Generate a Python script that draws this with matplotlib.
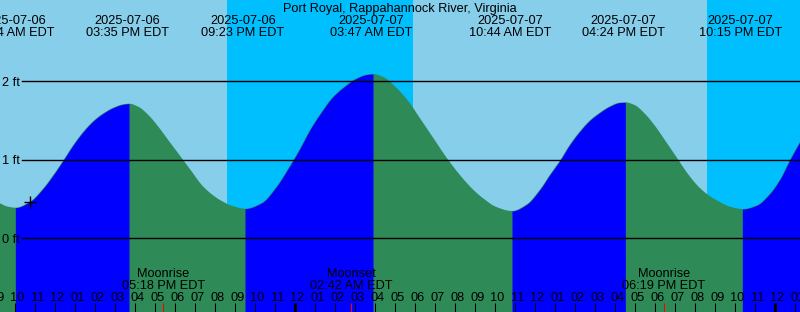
import matplotlib
matplotlib.use("Agg")
import matplotlib.pyplot as plt
import matplotlib.transforms as mtransforms
import numpy as np

# times are hours since 2025-07-06 00:00 EDT, heights in ft
tide_t = [9.10, 9.50, 9.90, 10.63, 11.30, 11.80, 12.30, 12.80, 13.30, 13.80, 14.30,
          14.80, 15.30, 15.583, 16.05, 16.55, 17.05, 17.55, 18.05, 18.30, 18.72,
          19.22, 19.72, 20.22, 20.72, 21.383, 22.21, 22.96, 23.52, 24.08, 24.65,
          25.21, 25.77, 26.34, 26.90, 27.46, 27.783, 28.34, 28.94, 29.54, 30.13,
          30.74, 31.54, 32.15, 32.75, 33.34, 33.94, 34.733, 35.46, 36.13, 36.63,
          37.13, 37.62, 38.12, 38.62, 39.12, 39.62, 40.12, 40.40, 40.87, 41.37,
          41.87, 42.38, 42.89, 43.56, 44.07, 44.58, 45.08, 45.58, 46.25, 46.97,
          47.63, 48.13, 48.63, 49.15]
tide_h = [0.450, 0.405, 0.390, 0.466, 0.637, 0.806, 0.994, 1.189, 1.358, 1.494, 1.592,
          1.664, 1.707, 1.715, 1.676, 1.571, 1.422, 1.250, 1.080, 0.995, 0.850,
          0.680, 0.561, 0.475, 0.415, 0.378, 0.450, 0.660, 0.880, 1.120, 1.390,
          1.610, 1.800, 1.930, 2.030, 2.085, 2.093, 2.050, 1.920, 1.750, 1.530,
          1.300, 1.000, 0.800, 0.630, 0.500, 0.400, 0.348, 0.430, 0.620, 0.810,
          0.990, 1.190, 1.360, 1.500, 1.600, 1.680, 1.728, 1.732, 1.697, 1.589,
          1.437, 1.250, 1.060, 0.810, 0.655, 0.545, 0.469, 0.407, 0.373, 0.420,
          0.570, 0.750, 1.000, 1.240]

event_t = [9.90, 15.583, 21.383, 27.783, 34.733, 40.40, 46.25]
event_kind = ["low", "high", "low", "high", "low", "high", "low"]
event_date = ["2025-07-06", "2025-07-06", "2025-07-06", "2025-07-07",
              "2025-07-07", "2025-07-07", "2025-07-07"]
event_time = ["09:54 AM EDT", "03:35 PM EDT", "09:23 PM EDT", "03:47 AM EDT",
              "10:44 AM EDT", "04:24 PM EDT", "10:15 PM EDT"]

sunset_t = [20.48, 44.48]
sunrise_t = [29.78, 53.80]

moon_t = [17.30, 26.70, 42.317]
moon_name = ["Moonrise", "Moonset", "Moonrise"]
moon_time = ["05:18 PM EDT", "02:42 AM EDT", "06:19 PM EDT"]

now_t = 10.63
depth_levels = [0, 1, 2]

t_start, t_end = 9.133, 49.133
h_bottom, h_top = -0.939, 3.036
W, H = 800, 312

day_col = "#87CEEB"
night_col = "#00BFFF"
flood_col = "#0000FF"
ebb_col = "#2E8B57"

plt.rcParams["font.family"] = ["Liberation Sans", "DejaVu Sans"]
fs = 9.2


def pchip(x, y, xn):
    # monotone cubic through the read points, only to draw a smooth outline
    x = np.asarray(x, float)
    y = np.asarray(y, float)
    hk = np.diff(x)
    dk = np.diff(y) / hk
    m = np.zeros_like(y)
    for k in range(1, len(x) - 1):
        if dk[k - 1] * dk[k] > 0:
            w1 = 2 * hk[k] + hk[k - 1]
            w2 = hk[k] + 2 * hk[k - 1]
            m[k] = (w1 + w2) / (w1 / dk[k - 1] + w2 / dk[k])
    m[0], m[-1] = dk[0], dk[-1]
    idx = np.clip(np.searchsorted(x, xn) - 1, 0, len(x) - 2)
    h = hk[idx]
    s = (xn - x[idx]) / h
    h00 = 2 * s**3 - 3 * s**2 + 1
    h10 = s**3 - 2 * s**2 + s
    h01 = -2 * s**3 + 3 * s**2
    h11 = s**3 - s**2
    return h00 * y[idx] + h10 * h * m[idx] + h01 * y[idx + 1] + h11 * h * m[idx + 1]


fig = plt.figure(figsize=(W / 100, H / 100), dpi=100)
ax = fig.add_axes([0, 0, 1, 1])
ax.set_xlim(t_start, t_end)
ax.set_ylim(h_bottom, h_top)
ax.axis("off")
ax.add_patch(plt.Rectangle((0, 0), 1, 1, transform=ax.transAxes, color=day_col, zorder=0))

for a, b in zip(sunset_t, sunrise_t):
    ax.axvspan(a, b, color=night_col, lw=0, zorder=1)

tt = np.union1d(np.linspace(tide_t[0], tide_t[-1], 2000), event_t)
hh = pchip(tide_t, tide_h, tt)
ax.fill_between(tt, hh, h_bottom, color=ebb_col, lw=0, zorder=2)
edges = [tt[0]] + event_t + [tt[-1]]
for i in range(len(edges) - 1):
    if i < len(event_kind):
        rising = event_kind[i] == "high"
    else:
        rising = event_kind[-1] == "low"
    if rising:
        m = (tt >= edges[i]) & (tt <= edges[i + 1])
        ax.fill_between(tt[m], hh[m], h_bottom, color=flood_col, lw=0, zorder=3)

# depth lines
ytrans = mtransforms.blended_transform_factory(ax.transAxes, ax.transData)
for d in depth_levels:
    ax.axhline(d, xmin=22 / W, xmax=1, color="black", lw=1.0, zorder=4)
    ax.text(2 / W, d, "%d ft" % d, transform=ytrans,
            ha="left", va="center_baseline", fontsize=fs, zorder=5)

# current time marker
ax.plot([now_t], [pchip(tide_t, tide_h, np.array([now_t]))[0]], marker="+",
        color="black", ms=9, mew=1.0, zorder=5)

trans = mtransforms.blended_transform_factory(ax.transData, ax.transAxes)


def ypix(p):
    return 1 - p / H


ax.text(0.5, ypix(11.7), "Port Royal, Rappahannock River, Virginia", transform=ax.transAxes,
        ha="center", va="baseline", fontsize=fs, zorder=6)
for t, d, s in zip(event_t, event_date, event_time):
    ax.text(t - 0.1, ypix(24), d, transform=trans, ha="center", va="baseline", fontsize=fs, zorder=6)
    ax.text(t - 0.1, ypix(36), s, transform=trans, ha="center", va="baseline", fontsize=fs, zorder=6)

for t, n, s in zip(moon_t, moon_name, moon_time):
    ax.text(t, ypix(277.3), n, transform=trans, ha="center", va="baseline", fontsize=fs, zorder=6)
    ax.text(t, ypix(289.3), s, transform=trans, ha="center", va="baseline", fontsize=fs, zorder=6)

# hour ticks and labels
hours = np.arange(9, 50)
for hr in hours:
    lab = "%02d" % (hr % 12 if hr % 12 else 12)
    ax.text(hr, ypix(300.7), lab, transform=trans, ha="center", va="baseline", fontsize=fs, zorder=6)
    lw = 2.2 if hr % 24 == 0 else 0.75
    ax.plot([hr - 0.1, hr - 0.1], [0, ypix(303)], transform=trans, color="black", lw=lw,
            solid_capstyle="butt", zorder=6)
for t in moon_t:
    ax.plot([t, t], [0, ypix(303)], transform=trans, color="red", lw=0.75,
            solid_capstyle="butt", zorder=7)

fig.savefig("out.png", dpi=100)
